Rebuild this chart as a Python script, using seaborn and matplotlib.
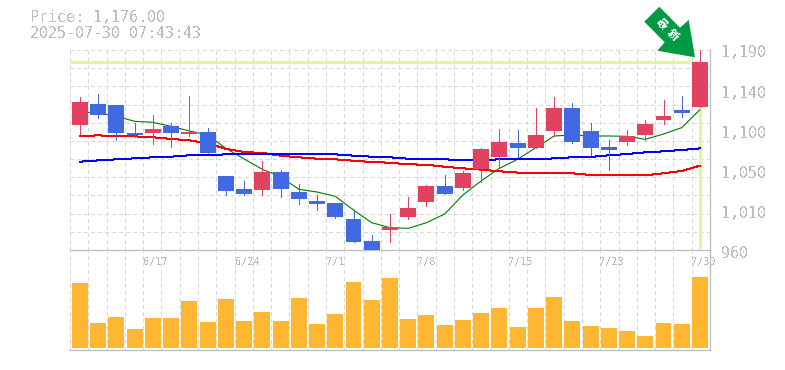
import numpy as np
import pandas as pd
import seaborn as sns
import matplotlib.pyplot as plt
from matplotlib.patches import Polygon

# --------------------------- DATA ---------------------------
open_px = [1104, 1128, 1127, 1095, 1095, 1103, 1093, 1096, 1045, 1030, 1029, 1050,
           1027, 1016, 1014, 996, 970, 983, 998, 1015, 1034, 1031, 1053, 1067,
           1083, 1077, 1097, 1123, 1097, 1078, 1084, 1092, 1110, 1121, 1124]
close_px = [1130, 1115, 1095, 1092, 1099, 1095, 1096, 1071, 1028, 1024, 1050, 1030,
            1019, 1013, 998, 969, 960, 986, 1008, 1034, 1024, 1049, 1076, 1084,
            1077, 1092, 1123, 1084, 1077, 1075, 1091, 1105, 1114, 1118, 1176]
high_px = [1136, 1139, 1127, 1106, 1115, 1106, 1137, 1100, 1045, 1039, 1062, 1052,
           1036, 1023, 1014, 1005, 977, 1001, 1021, 1035, 1046, 1051, 1077, 1099,
           1098, 1123, 1136, 1129, 1106, 1087, 1098, 1110, 1133, 1137, 1190]
low_px = [1093, 1112, 1086, 1090, 1082, 1079, 1091, 1071, 1023, 1023, 1023, 1021,
          1013, 1006, 997, 969, 960, 969, 996, 1011, 1024, 1029, 1038, 1055,
          1067, 1077, 1091, 1083, 1069, 1052, 1081, 1087, 1105, 1113, 1124]
ma_short = [1118.7, 1117.9, 1113.7, 1108, 1106.8, 1102.2, 1096.9, 1092.3, 1076.9, 1064.7, 1052.8, 1044.3,
            1029.8, 1026.7, 1021.7, 1006, 991.4, 985.7, 984.9, 991.4, 1001.4, 1023.3, 1039.4, 1053.9,
            1064.3, 1077.7, 1091.1, 1092.3, 1091.1, 1091.1, 1090.7, 1087.3, 1093.4, 1100.7, 1121.4]
ma_mid = [1090.7, 1091.9, 1090.7, 1090.7, 1089.6, 1087.7, 1086.1, 1082.7, 1076.2, 1072.7, 1071.6, 1068.5,
          1066.6, 1065, 1064.3, 1062.7, 1061.2, 1060.4, 1058.5, 1058.1, 1055.8, 1053.9, 1052.4, 1050.5,
          1049, 1048.2, 1048.2, 1048.2, 1046.3, 1045.9, 1045.9, 1045.9, 1048.2, 1050.9, 1057]
ma_long = [1061.6, 1063.1, 1064.3, 1065.4, 1066.6, 1067.3, 1068.9, 1068.9, 1070, 1070, 1070, 1070,
           1070.8, 1070, 1070, 1068.5, 1067.3, 1066.6, 1065, 1065, 1064.3, 1063.1, 1063.1, 1064.3,
           1064.3, 1064.3, 1065.4, 1066.6, 1067, 1068.9, 1070.4, 1072.3, 1073.5, 1075, 1076.9]
volume = [65, 25, 31, 19, 30, 30, 47, 26, 49, 27, 36, 27, 50, 24, 34, 66, 48, 70,
          29, 33, 23, 28, 35, 40, 21, 40, 51, 27, 22, 20, 17, 12, 25, 24, 71]

date_pos = [4, 9, 14, 19, 24, 29, 34]
date_labels = ['6/17', '6/24', '7/1', '7/8', '7/15', '7/23', '7/30']
price_ticks = [1190, 1144, 1098, 1052, 1006, 960]
price_labels = ['1,190', '1,140', '1,100', '1,050', '1,010', '960']
last_price = 1176
title_lines = ['Price: 1,176.00', '2025-07-30 07:43:43']
badge_chars = ['最', '新']

# --------------------------- SETTINGS ---------------------------
W, H = 785, 370
PX = 0.72  # one pixel in points at dpi 100
GRAY = '#bdbdbd'
GRID = '#d8d8d8'
UP = '#e24260'
DOWN = '#4169e1'
LIME = '#e2f5a6'

sns.set_style('white')
plt.rcParams['font.family'] = ['DejaVu Sans Mono', 'Noto Sans CJK JP']
plt.rcParams['text.antialiased'] = False

df = pd.DataFrame({'i': np.arange(len(open_px)), 'open': open_px, 'close': close_px,
                   'high': high_px, 'low': low_px, 'ma_short': ma_short,
                   'ma_mid': ma_mid, 'ma_long': ma_long, 'volume': volume})
df['top'] = df[['open', 'close']].max(axis=1)
df['bot'] = df[['open', 'close']].min(axis=1)
df['color'] = np.where(df['close'] >= df['open'], UP, DOWN)

fig = plt.figure(figsize=(W / 100, H / 100), dpi=100, facecolor='white')


def px_axes(x0, y0, x1, y1):
    return fig.add_axes([x0 / W, 1 - y1 / H, (x1 - x0) / W, (y1 - y0) / H])


ax = px_axes(70, 50, 710, 250)
ax_v = px_axes(70, 250, 710, 350)
x_lim = (-0.548, 34.55)
dash = (0, (4, 3))

# --------------------------- GRID & FRAME ---------------------------
for a in (ax, ax_v):
    a.set_xlim(*x_lim)
    a.set_xticks(np.linspace(*x_lim, 36))
    a.tick_params(length=0, labelbottom=False, labelleft=False)
    a.set_facecolor('none')
    a.grid(True, axis='x', color=GRID, lw=PX, ls=dash, antialiased=False)
    a.set_axisbelow(True)
    for side in ('left', 'top'):
        a.spines[side].set_visible(False)
    for side in ('right', 'bottom'):
        a.spines[side].set_color(GRAY)
        a.spines[side].set_linewidth(PX * 1.3)

ax.set_ylim(960, 1190)
ax.set_yticks(np.linspace(960, 1190, 12))
ax.grid(True, axis='y', color=GRID, lw=PX, ls=dash, antialiased=False)
ax_v.set_ylim(-2, 98)
ax_v.set_yticks([])

# --------------------------- PRICE PANEL ---------------------------
ax.plot([x_lim[0], df['i'].iloc[-1]], [last_price, last_price], color=LIME, lw=3.2 * PX, zorder=1.5,
        solid_capstyle='butt')
ax.plot([df['i'].iloc[-1]] * 2, [961, last_price], color=LIME, lw=3.2 * PX, zorder=1.5,
        solid_capstyle='butt')

# green is antialiased, an aliased sloped line comes out 2px thick
sns.lineplot(data=df, x='i', y='ma_short', color='#007a00', linewidth=0.8, ax=ax, zorder=2, legend=False)
for col, c in (('ma_mid', 'red'), ('ma_long', 'blue')):
    sns.lineplot(data=df, x='i', y=col, color=c, linewidth=PX, ax=ax, zorder=2, antialiased=False, legend=False)

ax.vlines(df['i'], df['low'], df['high'], colors=df['color'], lw=PX, zorder=3, antialiased=False)
ax.bar(df['i'], df['top'] - df['bot'], bottom=df['bot'], width=0.875, color=df['color'],
       edgecolor='none', linewidth=0, zorder=4, antialiased=False)
ax.set_xlabel('')
ax.set_ylabel('')

for val, lab in zip(price_ticks, price_labels):
    ax.annotate(lab, (1, val), xycoords=ax.get_yaxis_transform(), xytext=(11, -3),
                textcoords='offset pixels', color=GRAY, fontsize=10.8, va='center', ha='left',
                annotation_clip=False)

# --------------------------- VOLUME PANEL ---------------------------
sns.barplot(data=df, x='i', y='volume', native_scale=True, width=0.875, color='#ffb733',
            saturation=1, ax=ax_v, zorder=3, edgecolor='none', linewidth=0, antialiased=False)
ax_v.set_xlim(*x_lim)
ax_v.set_xticks(np.linspace(*x_lim, 36))
ax_v.set_xlabel('')
ax_v.set_ylabel('')
ax_v.tick_params(length=0, labelbottom=False, labelleft=False)

for pos, lab in zip(date_pos, date_labels):
    ax_v.text(pos - 0.5, 86, lab, color=GRAY, fontsize=7.4, ha='left', va='center', zorder=5)

# --------------------------- TITLE & BADGE ---------------------------
fig.text(30 / W, 1 - 18 / H, title_lines[0], color=GRAY, fontsize=10.8, va='center', ha='left')
fig.text(30 / W, 1 - 33 / H, title_lines[1], color=GRAY, fontsize=10.8, va='center', ha='left')

arrow_px = [(659.3, 6.7), (680, 27.7), (688.7, 20), (695, 57.3), (657.3, 50.7), (664.7, 42.3), (644.3, 21.7)]
fig.add_artist(Polygon([(x / W, 1 - y / H) for x, y in arrow_px], closed=True, transform=fig.transFigure,
                       facecolor='#009944', edgecolor='none', zorder=10))
for ch, (bx, by) in zip(badge_chars, [(661.5, 23.5), (672.5, 34.5)]):
    fig.text(bx / W, 1 - by / H, ch, color='white', fontsize=8, fontweight='bold', rotation=-45,
             rotation_mode='anchor', ha='center', va='center', family=['Noto Sans CJK JP', 'DejaVu Sans'],
             zorder=11)

fig.savefig('out.png', dpi=100)
